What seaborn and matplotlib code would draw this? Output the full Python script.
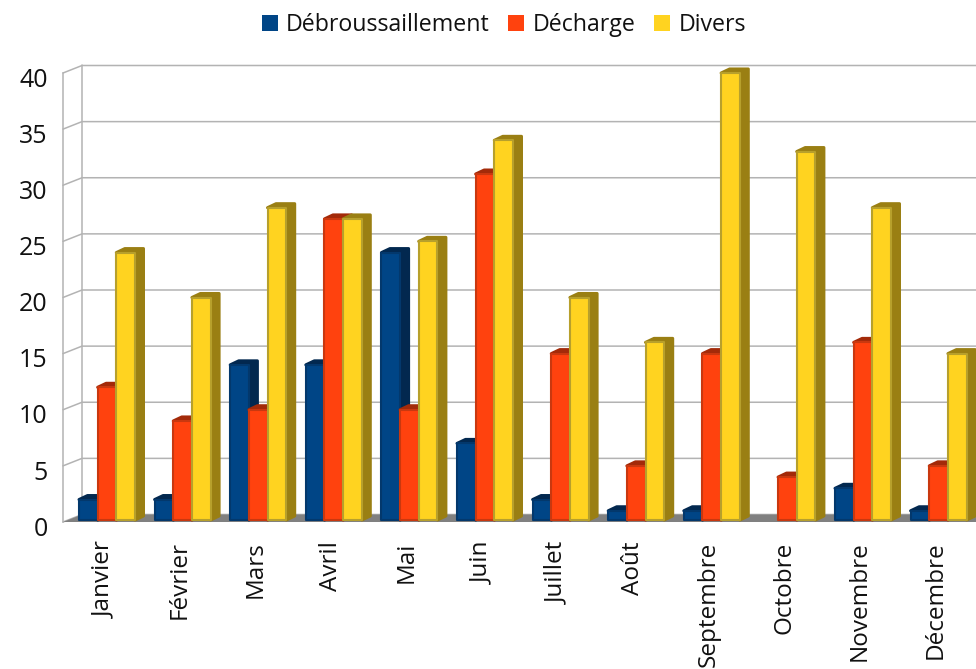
import matplotlib
matplotlib.use("Agg")
import matplotlib.pyplot as plt
from matplotlib.patches import Polygon
from matplotlib.transforms import ScaledTranslation
import pandas as pd
import seaborn as sns

months = ["Janvier", "Février", "Mars", "Avril", "Mai", "Juin", "Juillet", "Août",
          "Septembre", "Octobre", "Novembre", "Décembre"]
debroussaillement = [2, 2, 14, 14, 24, 7, 2, 1, 1, 0, 3, 1]
decharge = [12, 9, 10, 27, 10, 31, 15, 5, 15, 4, 16, 5]
divers = [24, 20, 28, 27, 25, 34, 20, 16, 40, 33, 28, 15]
series_names = ["Débroussaillement", "Décharge", "Divers"]
y_ticks = list(range(0, 45, 5))

front_colors = ["#004586", "#ff420e", "#ffd320"]
side_colors = ["#02284f", "#a32a09", "#9a7f13"]
edge_colors = ["#03386c", "#c9380f", "#b7a02c"]

W, H = 976, 669
AX_LEFT, AX_RIGHT, AX_TOP, AX_BOTTOM = 63, 976, 73, 522  # pixel frame of the front plane
GROUP_PX = 75.6
FIRST_GROUP_PX = 107.0
PX_PER_UNIT = (AX_BOTTOM - AX_TOP) / 40

sns.set_theme(style="white")
plt.rcParams["font.family"] = ["Open Sans", "DejaVu Sans"]

df = pd.DataFrame({"mois": months,
                   series_names[0]: debroussaillement,
                   series_names[1]: decharge,
                   series_names[2]: divers})
long_df = df.melt(id_vars="mois", var_name="type", value_name="n")

fig = plt.figure(figsize=(W / 100, H / 100), dpi=100)
ax = fig.add_axes([AX_LEFT / W, 1 - AX_BOTTOM / H,
                   (AX_RIGHT - AX_LEFT) / W, (AX_BOTTOM - AX_TOP) / H])

sns.barplot(data=long_df, x="mois", y="n", hue="type", order=months, hue_order=series_names,
            palette=front_colors, width=0.74, gap=0, saturation=1, ax=ax)

xmin = (AX_LEFT - FIRST_GROUP_PX) / GROUP_PX
xmax = (AX_RIGHT - FIRST_GROUP_PX) / GROUP_PX
ax.set_xlim(xmin, xmax)
ax.set_ylim(0, 40)
ax.set_xlabel("")
ax.set_ylabel("")

# Depth of the bars and of the back wall, in data units
bar_dx, bar_dy = 8.5 / GROUP_PX, 4 / PX_PER_UNIT
wall_dx, wall_dy = 19 / GROUP_PX, 7.5 / PX_PER_UNIT
lift = 2 / PX_PER_UNIT
grid_color = "#b3b3b3"

# Floor, back wall and receding gridlines
ax.add_patch(Polygon([(xmin, 0), (xmin + wall_dx, wall_dy), (xmax, wall_dy), (xmax, 0)],
                     closed=True, fc="#808080", ec="none", clip_on=False, zorder=1))
for v in y_ticks:
    ax.plot([xmin, xmin + wall_dx, xmax], [v, v + wall_dy, v + wall_dy],
            color=grid_color, lw=1.1, clip_on=False, zorder=0.8, solid_joinstyle="miter")
ax.plot([xmin + wall_dx] * 2, [wall_dy, 40 + wall_dy], color=grid_color, lw=1.1,
        clip_on=False, zorder=0.8)

# Extrude each bar: side and top faces stack under the next series
for s, container in enumerate(ax.containers):
    base = 2 + s
    for rect in container:
        h = rect.get_height()
        if h == 0:
            rect.set_visible(False)
            continue
        x0 = rect.get_x()
        x1 = x0 + rect.get_width()
        rect.set_y(lift)
        rect.set_height(h - lift)
        rect.set(edgecolor=edge_colors[s], linewidth=1.5, zorder=base + 0.5, clip_on=False)
        rect.set_joinstyle("round")
        side = [(x1, lift), (x1 + bar_dx, lift + bar_dy), (x1 + bar_dx, h + bar_dy),
                (x0 + bar_dx, h + bar_dy), (x0, h), (x1, h)]
        ax.add_patch(Polygon(side, closed=True, fc=side_colors[s], ec=side_colors[s], lw=2.2,
                             joinstyle="round", clip_on=False, zorder=base))

for name in ["top", "right", "bottom"]:
    ax.spines[name].set_visible(False)
ax.spines["left"].set_color(grid_color)
ax.spines["left"].set_linewidth(1.1)

ax.set_yticks(y_ticks)
ax.tick_params(axis="y", length=0, pad=11, labelsize=18, labelcolor="#111111")
ax.tick_params(axis="x", length=0, pad=14, labelsize=17.5, labelcolor="#111111", rotation=90)
down = ScaledTranslation(0, -3 / 72, fig.dpi_scale_trans)
for label in ax.get_yticklabels():
    label.set_transform(label.get_transform() + down)
left = ScaledTranslation(-3 / 100, 0, fig.dpi_scale_trans)
for label in ax.get_xticklabels():
    label.set_transform(label.get_transform() + left)

sns.move_legend(ax, "center", bbox_to_anchor=(504 / W, 1 - 25 / H),
                bbox_transform=fig.transFigure, ncol=3, frameon=False, title=None,
                fontsize=16.7, handlelength=0.69, handleheight=0.69, handletextpad=0.37,
                columnspacing=0.8, borderpad=0)
for handle in ax.get_legend().legend_handles:
    handle.set_edgecolor("none")
for text in ax.get_legend().get_texts():
    text.set_color("#111111")

fig.savefig("out.png", dpi=100, facecolor="white")
